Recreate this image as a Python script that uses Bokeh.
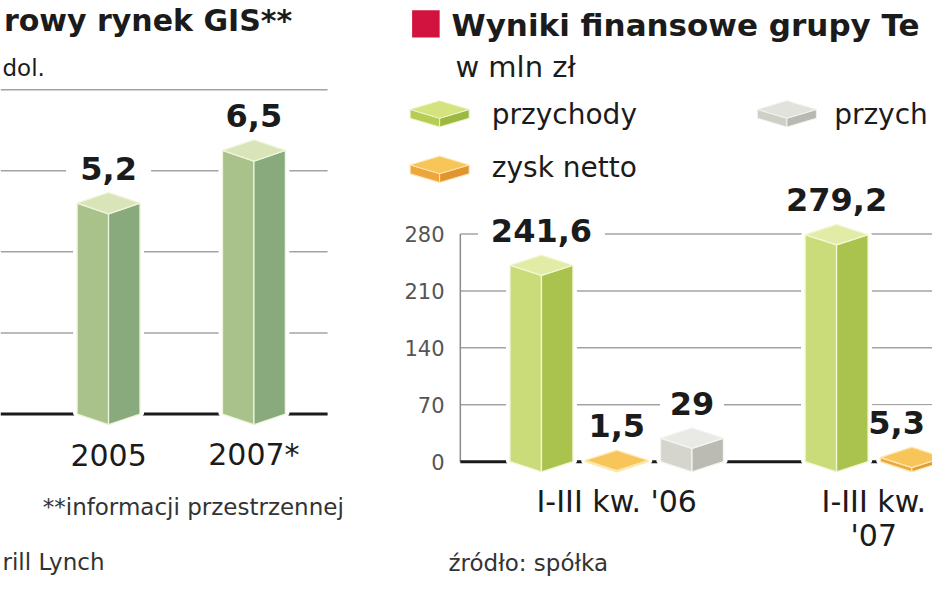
from bokeh.plotting import figure
from bokeh.layouts import row
from bokeh.models import Range1d
from bokeh.core.properties import value
from bokeh.embed import file_html
from bokeh.resources import INLINE

# ---------------- data ----------------
# left chart: world GIS market (bln USD); the earliest year lies outside the crop
gis_years = ["2005", "2007*"]
gis_values = [5.2, 6.5]
gis_grid = [2, 4, 6, 8]

# right chart: financial results, mln PLN
periods = ["I-III kw. '06", "I-III kw. '07"]
przychody = [241.6, 279.2]
zysk_netto = [1.5, 5.3]
przychody_szare = [29.0]          # the '07 value lies outside the crop
fin_ticks = [0, 70, 140, 210, 280]


def fmt(v):
    return f"{v:g}".replace(".", ",")


FONT = value("DejaVu Sans")
INK = "#1b1b1b"
GRID = "#a3a3a3"
REF_W, REF_H = 948.0, 593.0      # design space
CAN_W, CAN_H = 932, 577          # canvas size
SPLIT = 395.0
LEFT_W = int(round(SPLIT * CAN_W / REF_W))
RIGHT_W = CAN_W - LEFT_W
EDGE = REF_W - 3                 # keep texts inside the right edge


def base_fig(w, h, xr, yr):
    return figure(width=w, height=h, x_range=Range1d(*xr), y_range=Range1d(*yr),
                  x_axis_type=None, y_axis_type=None, output_backend="svg",
                  toolbar_location=None, min_border=0, outline_line_color=None,
                  background_fill_color="white", border_fill_color="white",
                  title=None)


def bar_shapes(xc, v, hw, dd):
    lf = ([xc - hw, xc - hw, xc, xc], [0, v, v - dd, -dd])
    rf = ([xc, xc, xc + hw, xc + hw], [-dd, v - dd, v, 0])
    tf = ([xc - hw, xc, xc + hw, xc], [v, v - dd, v, v + dd])
    halo = ([xc - hw, xc - hw, xc, xc + hw, xc + hw, xc], [0, v, v + dd, v, 0, -dd])
    return lf, rf, tf, halo


def draw_halos(p, xs, vs, hw, dd):
    sh = [bar_shapes(x, v, hw, dd)[3] for x, v in zip(xs, vs)]
    p.patches(xs=[s[0] for s in sh], ys=[s[1] for s in sh],
              fill_color="white", line_color="white", line_width=8)


def draw_bars(p, xs, vs, hw, dd, colors, edge):
    sh = [bar_shapes(x, v, hw, dd) for x, v in zip(xs, vs)]
    for i, col in enumerate(colors):
        p.patches(xs=[s[i][0] for s in sh], ys=[s[i][1] for s in sh],
                  fill_color=col, line_color=edge, line_width=1.3)


def txt(p, x, y, text, size, align="left", baseline="middle", bold=False, color=INK):
    p.text(x=x, y=y, text=text, text_font=FONT, text_font_size=size,
           text_align=align, text_baseline=baseline, text_color=color,
           text_font_style="bold" if bold else "normal")


def label_layout(xs, vs, per_px, x_max=None):
    labels = [fmt(v) for v in vs]
    ys = [v + 36 / per_px for v in vs]
    if x_max is not None:   # keep a label fully inside the right edge
        xs = [min(x, x_max(len(s) * 10.5 + 2)) for x, s in zip(xs, labels)]
    return xs, ys, labels


def label_backs(p, xs, ys, labels):
    p.rect(x=xs, y=ys, width=[len(s) * 21 + 22 for s in labels], height=34,
           width_units="screen", height_units="screen",
           fill_color="white", line_color=None)


def label_texts(p, xs, ys, labels):
    txt(p, xs, ys, labels, "32px", align="center", bold=True)


# ================= LEFT CHART =================
L_X0, L_DX, L_Y0, L_DY = -38.0, 148.0, 425.0, 41.67   # design px per unit
def lx(px): return (px - L_X0) / L_DX
def ly(py): return (L_Y0 - py) / L_DY

left = base_fig(LEFT_W, CAN_H, (lx(0), lx(SPLIT)), (ly(REF_H), ly(0)))
gis_x = [i + 1 for i in range(len(gis_years))]
L_HW, L_DD = 32 / L_DX, 11 / L_DY

left.segment(x0=lx(0), x1=lx(333), y0=gis_grid, y1=gis_grid, line_color=GRID, line_width=1.5)
left.segment(x0=lx(0), x1=lx(333), y0=0, y1=0, line_color=INK, line_width=3)
lab_l = label_layout(gis_x, gis_values, L_DY)
label_backs(left, *lab_l)
draw_halos(left, gis_x, gis_values, L_HW, L_DD)
draw_bars(left, gis_x, gis_values, L_HW, L_DD, ["#a9c28b", "#88aa7c", "#d9e5b9"], "#eef4dc")
label_texts(left, *lab_l)
txt(left, gis_x, [ly(467)] * len(gis_x), gis_years, "30px", align="center")

txt(left, [lx(297)], [ly(21)], ["rowy rynek GIS**"], "30px", align="right", bold=True)
txt(left, [lx(2)], [ly(69)], ["dol."], "23px")
txt(left, [lx(43)], [ly(521)], ["**informacji przestrzennej"], "23px", color="#333333")
txt(left, [lx(2)], [ly(577)], ["rill Lynch"], "23px", color="#333333")

# ================= RIGHT CHART =================
R_X0, R_DX, R_Y0, R_DY = 627.0, 300.0, 474.0, 234.0 / 280
def rx(px): return (px - R_X0) / R_DX
def ry(py): return (R_Y0 - py) / R_DY

right = base_fig(RIGHT_W, CAN_H, (rx(SPLIT), rx(REF_W)), (ry(REF_H), ry(0)))
OFF = 76.5 / R_DX
HW, DD = 32 / R_DX, 10.5 / R_DY
grp = list(range(len(periods)))
x_green = [g - OFF for g in grp]
x_orange = [g for g in grp]
x_gray = [g + OFF for g in range(len(przychody_szare))]
all_x = x_green + x_orange + x_gray
all_v = przychody + zysk_netto + przychody_szare

right.segment(x0=rx(468), x1=rx(960), y0=fin_ticks[1:], y1=fin_ticks[1:], line_color=GRID, line_width=1.5)
right.segment(x0=rx(468), x1=rx(468), y0=0, y1=fin_ticks[-1], line_color="#8c8c8c", line_width=1.5)
right.segment(x0=rx(468), x1=rx(960), y0=0, y1=0, line_color=INK, line_width=3)
txt(right, [rx(452)] * len(fin_ticks), fin_ticks, [str(t) for t in fin_ticks], "21px",
    align="right", color="#555555")

lab_r = label_layout(all_x, all_v, R_DY, x_max=lambda half_px: rx(EDGE - half_px))
label_backs(right, *lab_r)
draw_halos(right, all_x, all_v, HW, DD)
draw_bars(right, x_green, przychody, HW, DD, ["#c9dc79", "#aac34f", "#e3eca6"], "#f3f7d6")
draw_bars(right, x_orange, zysk_netto, HW, DD, ["#eba83f", "#e29a33", "#f7c55a"], "#fde8b0")
draw_bars(right, x_gray, przychody_szare, HW, DD, ["#d5d5cd", "#bbbbb3", "#e9e9e5"], "#f4f4f0")
label_texts(right, *lab_r)

# category labels: a label that would cross the right edge is wrapped and pulled inside
for g, lab in zip(grp, periods):
    cx = R_X0 + g * R_DX
    half = len(lab) * 6.5
    if cx + half <= EDGE:
        txt(right, [g], [ry(515)], [lab], "30px", align="center")
    else:
        head, tail = lab.rsplit(" ", 1)
        half = len(head) * 6.3
        xc = rx(min(cx, EDGE - half))
        txt(right, [xc], [ry(515)], [head], "30px", align="center")
        txt(right, [xc], [ry(550)], [tail], "30px", align="center")

# title block
right.quad(left=rx(419), right=rx(447), top=ry(10), bottom=ry(38), fill_color="#d2133f", line_color=None)
txt(right, [rx(459)], [ry(25)], ["Wyniki finansowe grupy Te"], "31px", bold=True)
txt(right, [rx(463)], [ry(68)], ["w mln zł"], "29px")


# legend icons (flat 3D tiles)
def icon(cx, my, cols, edge, hw=30, d=9, h=9):
    l, r, t = cols
    def P(pts): return [rx(a) for a, b in pts], [ry(b) for a, b in pts]
    lf = P([(cx - hw, my), (cx, my + d), (cx, my + d + h), (cx - hw, my + h)])
    rf = P([(cx, my + d), (cx + hw, my), (cx + hw, my + h), (cx, my + d + h)])
    tf = P([(cx - hw, my), (cx, my - d), (cx + hw, my), (cx, my + d)])
    for (xs, ys), c in zip([lf, rf, tf], [l, r, t]):
        right.patch(xs, ys, fill_color=c, line_color=edge, line_width=1)


icon(447, 112, ["#b5cd52", "#9cb842", "#d4e37e"], "#eef4cc")
icon(800, 112, ["#cfcfc8", "#b9b9b2", "#e2e2dd"], "#f2f2ee")
icon(447, 169, ["#eda63c", "#e09532", "#f8c558"], "#fde6ae")
txt(right, [rx(500)], [ry(117)], ["przychody"], "28px")
txt(right, [rx(848)], [ry(117)], ["przych"], "28px")
txt(right, [rx(500)], [ry(172)], ["zysk netto"], "28px")
txt(right, [rx(456)], [ry(578)], ["źródło: spółka"], "23px", color="#333333")

layout = row(left, right, spacing=0)
open("out.html", "w").write(file_html(layout, INLINE))
